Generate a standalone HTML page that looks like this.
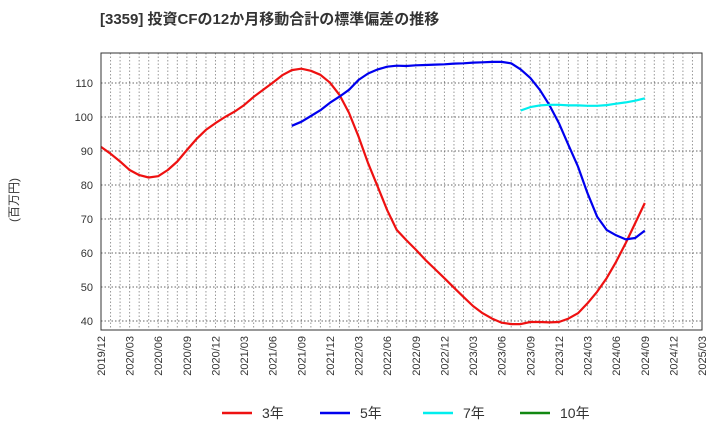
<!DOCTYPE html>
<html><head><meta charset="utf-8"><style>
body{margin:0;background:#fff;font-family:"Liberation Sans","Noto Sans CJK JP",sans-serif}
</style></head><body>
<svg id="chart" width="720" height="440" xmlns="http://www.w3.org/2000/svg" font-family="Liberation Sans, Noto Sans CJK JP, sans-serif">
<text x="100" y="24" font-size="15" font-weight="bold" fill="#333">[3359]  投資CFの12か月移動合計の標準偏差の推移</text>
<text transform="translate(18,200) rotate(-90)" text-anchor="middle" font-size="12" fill="#333">(百万円)</text>
<g id="grid"></g><g id="series"></g><g id="axes"></g>
<g font-size="14" fill="#333">
<line x1="222" y1="413" x2="252" y2="413" stroke="#ee1111" stroke-width="2.5"/><text x="262" y="418">3年</text>
<line x1="320" y1="413" x2="350" y2="413" stroke="#0000ee" stroke-width="2.5"/><text x="360" y="418">5年</text>
<line x1="423" y1="413" x2="453" y2="413" stroke="#00eeee" stroke-width="2.5"/><text x="463" y="418">7年</text>
<line x1="520" y1="413" x2="550" y2="413" stroke="#118811" stroke-width="2.5"/><text x="560" y="418">10年</text>
</g>
</svg>
<script>
const yTicks=[40,50,60,70,80,90,100,110];
const xTickLabels=["2019/12","2020/03","2020/06","2020/09","2020/12","2021/03","2021/06","2021/09","2021/12","2022/03","2022/06","2022/09","2022/12","2023/03","2023/06","2023/09","2023/12","2024/03","2024/06","2024/09","2024/12","2025/03"];
// month index 0 = 2019/12
const s3Start=0;
const s3=[91.2,89.2,86.9,84.4,82.9,82.2,82.6,84.4,86.9,90.3,93.5,96.2,98.2,100,101.6,103.5,105.9,108,110.1,112.3,113.8,114.2,113.6,112.4,110.1,106.5,101.2,94.2,86.4,79.5,72.6,66.8,63.8,61,58,55.3,52.6,49.8,47.1,44.4,42.3,40.7,39.5,39.1,39.1,39.7,39.7,39.6,39.7,40.7,42.3,45.2,48.6,52.6,57.4,62.9,68.8,74.7];
const s5Start=20;
const s5=[97.4,98.6,100.3,102,104.2,106,108,110.9,112.8,114,114.8,115.1,115,115.2,115.3,115.4,115.5,115.7,115.8,116,116.1,116.2,116.2,115.8,114,111.5,108,103.5,98.2,91.8,85.4,77.6,70.7,66.8,65.2,64,64.4,66.6];
const s7Start=44;
const s7=[101.9,102.9,103.4,103.6,103.6,103.4,103.4,103.3,103.3,103.5,103.9,104.3,104.8,105.5];
const L=101,R=702,T=53,B=330,months=63;
const xs=i=>L+(R-L)*i/months;
const ys=v=>83+(110-v)*3.4;
const NS="http://www.w3.org/2000/svg";
function mk(tag,attrs,parent){const e=document.createElementNS(NS,tag);for(const k in attrs)e.setAttribute(k,attrs[k]);parent.appendChild(e);return e;}
const grid=document.getElementById('grid'),axes=document.getElementById('axes'),ser=document.getElementById('series');
for(let m=1;m<months;m++){const l=mk('line',{x1:xs(m),x2:xs(m),y1:T,y2:B,stroke:'#999','stroke-dasharray':'1.5,2','stroke-width':1},grid);

}
yTicks.forEach(v=>{const l=mk('line',{x1:L,x2:R,y1:ys(v),y2:ys(v),stroke:'#666','stroke-dasharray':'1.5,2','stroke-width':1},grid);


const t=mk('text',{x:L-8,y:ys(v)+4,'text-anchor':'end','font-size':11,fill:'#333'},axes);t.textContent=v;

});
xTickLabels.forEach((s,i)=>{const x=xs(i*3);const t=mk('text',{transform:`translate(${x+4},336) rotate(-90)`,'text-anchor':'end','font-size':11,fill:'#333'},axes);t.textContent=s;

});
const frame=mk('rect',{x:L,y:T,width:R-L,height:B-T,fill:'none',stroke:'#333','stroke-width':1},axes);


function line(arr,start,color,name){const pts=arr.map((v,i)=>xs(start+i).toFixed(1)+','+ys(v).toFixed(1)).join(' ');
const p=mk('polyline',{points:pts,fill:'none',stroke:color,'stroke-width':2.2,'stroke-linejoin':'round'},ser);

}
line(s3,s3Start,'#ee1111','series-3y');
line(s5,s5Start,'#0000ee','series-5y');
line(s7,s7Start,'#00eeee','series-7y');
</script>
</body></html>
